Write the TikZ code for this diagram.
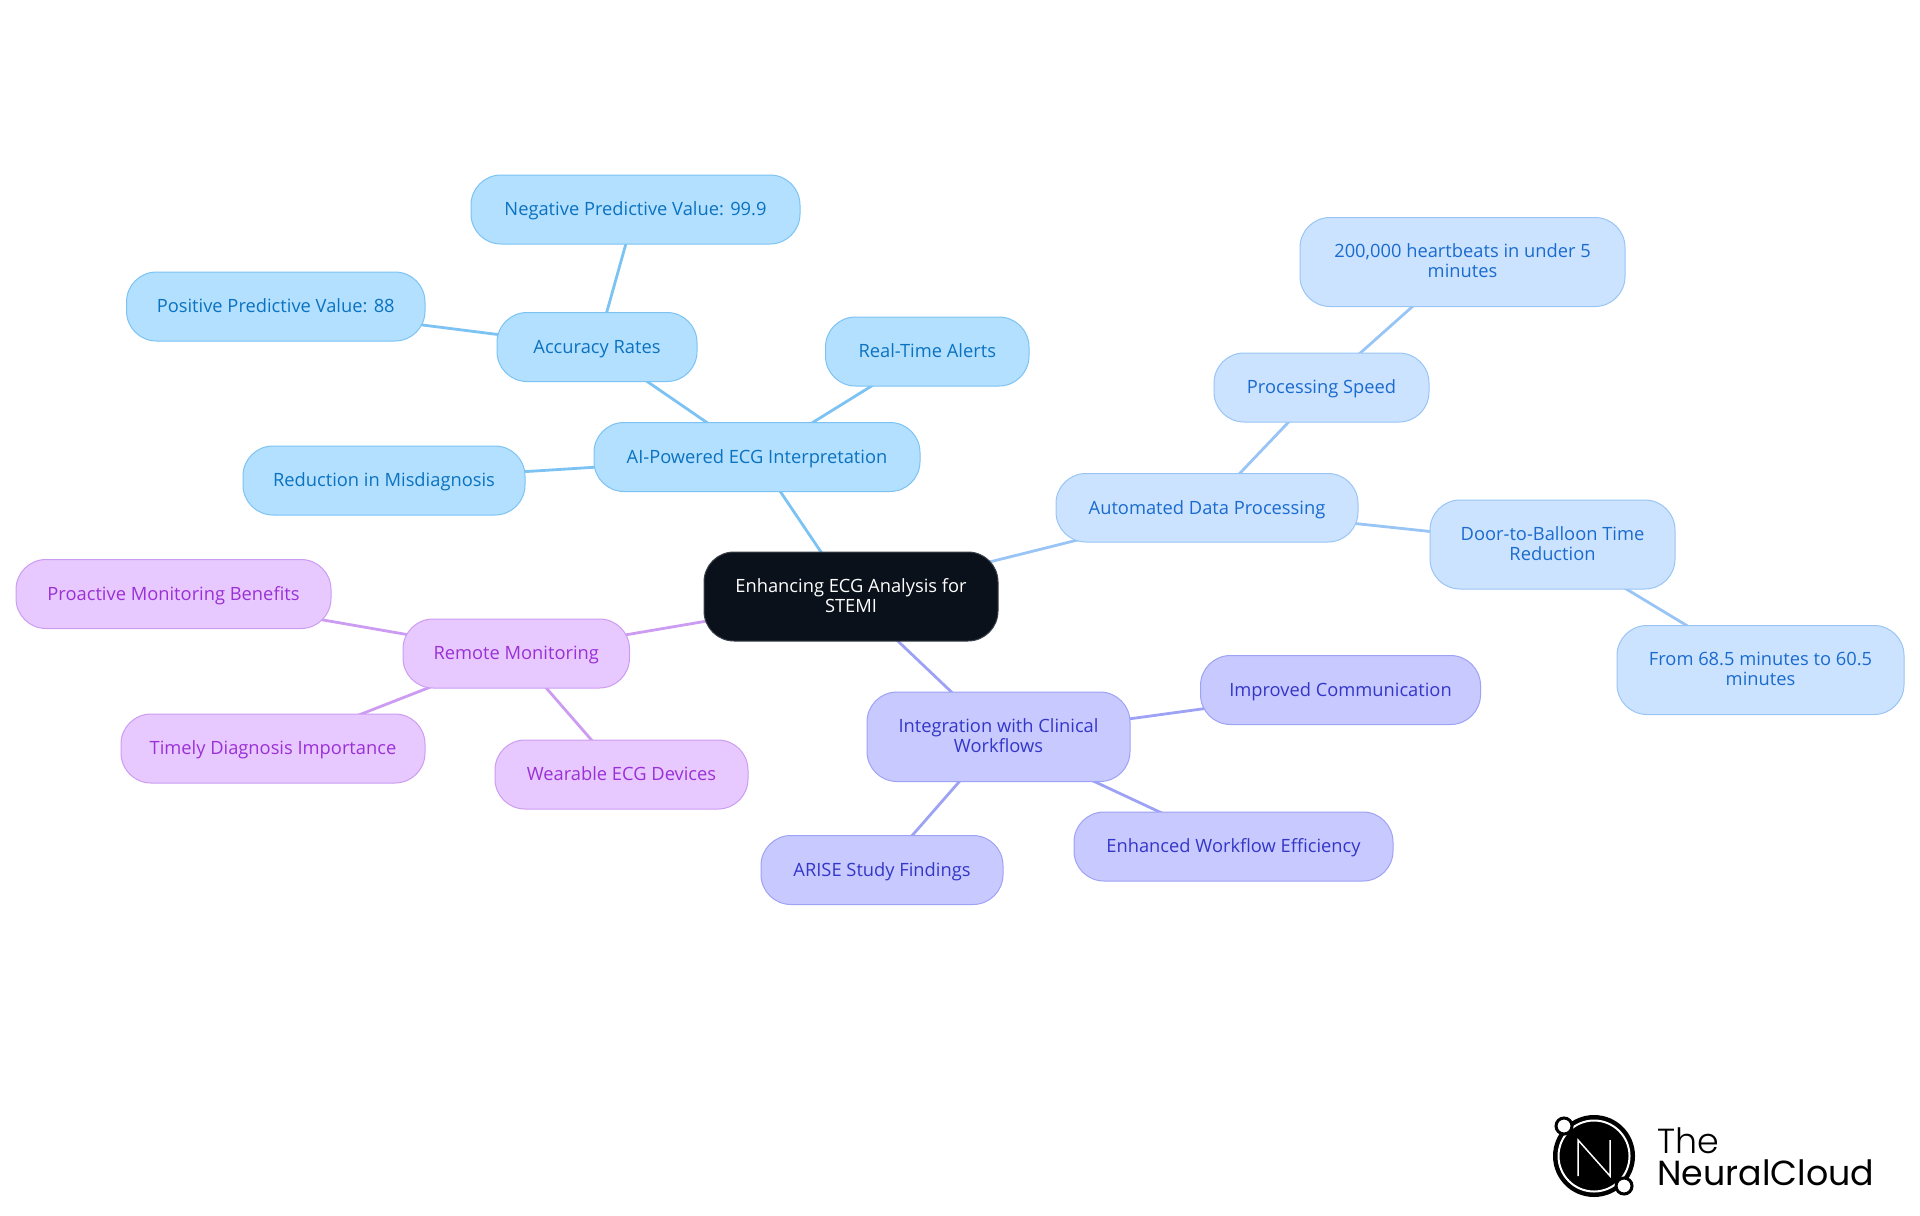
\documentclass[tikz,border=0pt]{standalone}
\usepackage{fontspec}
\setmainfont{Open Sans}
\newfontfamily\logofont{Poppins}
\newfontfamily\logolight{Poppins Light}
\usetikzlibrary{backgrounds}
\definecolor{bluefill}{HTML}{B3E0FF}
\definecolor{bluedraw}{HTML}{7CC3F3}
\definecolor{bluetext}{HTML}{0B72C0}
\definecolor{skyfill}{HTML}{CCE3FF}
\definecolor{skydraw}{HTML}{98C5F5}
\definecolor{skytext}{HTML}{1A6BCE}
\definecolor{indfill}{HTML}{C8CAFF}
\definecolor{inddraw}{HTML}{9EA2F5}
\definecolor{indtext}{HTML}{3436C8}
\definecolor{purfill}{HTML}{E8C9FF}
\definecolor{purdraw}{HTML}{CC9CF2}
\definecolor{purtext}{HTML}{9A30D6}
\definecolor{rootfill}{HTML}{0A111B}
\newcommand{\lowstrut}{\rule[-1.2pt]{0pt}{1.2pt}}
\tikzset{
  x=0.5pt,y=-0.5pt,
  mapnode/.style={rectangle,rounded corners=15pt,line width=0.5pt,align=center,inner sep=0pt,font=\fontsize{9.15}{10}\selectfont},
  oneline/.style={text height=8pt,text depth=1.7pt},
  bluenode/.style={mapnode,fill=bluefill,draw=bluedraw,text=bluetext},
  skynode/.style={mapnode,fill=skyfill,draw=skydraw,text=skytext},
  indnode/.style={mapnode,fill=indfill,draw=inddraw,text=indtext},
  purnode/.style={mapnode,fill=purfill,draw=purdraw,text=purtext},
  rootnode/.style={mapnode,fill=rootfill,draw=rootfill!80!white,text=white},
  blueedge/.style={draw=bluedraw,line width=1.4pt},
  skyedge/.style={draw=skydraw,line width=1.4pt},
  indedge/.style={draw=inddraw,line width=1.4pt},
  puredge/.style={draw=purdraw,line width=1.4pt},
}
\newcommand{\mapbox}[7]{% style,name,x1,y1,x2,y2,text
  \pgfmathsetmacro{\bw}{(#5-#3)*0.5}\pgfmathsetmacro{\bh}{(#6-#4)*0.5}
  \node[#1,minimum width=\bw pt,minimum height=\bh pt] (#2) at ({(#3+#5)/2},{(#4+#6)/2}) {#7};}
\begin{document}
\begin{tikzpicture}
\useasboundingbox (0,0) rectangle (1920,1215);
\mapbox{rootnode}{root}{704}{552}{998}{641}{Enhancing ECG Analysis for\\STEMI\lowstrut}
\mapbox{bluenode,oneline}{ai}{594}{422.5}{920}{491.5}{AI-Powered ECG Interpretation}
\mapbox{bluenode,oneline}{red}{243}{446}{525}{515}{Reduction in Misdiagnosis}
\mapbox{bluenode,oneline}{acc}{497}{312.5}{697}{381.5}{Accuracy Rates}
\mapbox{bluenode,oneline}{rta}{825.5}{317}{1029}{386}{Real-Time Alerts}
\mapbox{bluenode,oneline}{npv}{471}{175}{800}{244}{Negative Predictive Value: 99.9}
\mapbox{bluenode,oneline}{ppv}{126.5}{272}{425}{341}{Positive Predictive Value: 88}
\mapbox{skynode,oneline}{auto}{1056}{473.5}{1358}{542}{Automated Data Processing}
\mapbox{skynode,oneline}{speed}{1214}{353}{1429}{422}{Processing Speed}
\mapbox{skynode}{beats}{1300}{217.5}{1625}{306.5}{200,000 heartbeats in under 5\\minutes\lowstrut}
\mapbox{skynode}{door}{1430}{500}{1675}{589}{Door-to-Balloon Time\\Reduction\lowstrut}
\mapbox{skynode}{from}{1617}{625.5}{1904}{714.5}{From 68.5 minutes to 60.5\\minutes\lowstrut}
\mapbox{indnode}{integ}{867}{692}{1130}{781.5}{Integration with Clinical\\Workflows\lowstrut}
\mapbox{indnode,oneline}{comm}{1200.5}{655.5}{1480.5}{724.5}{Improved Communication}
\mapbox{indnode,oneline}{effic}{1074}{812}{1393}{881}{Enhanced Workflow Efficiency}
\mapbox{indnode,oneline}{arise}{761}{835.5}{1003}{904.5}{ARISE Study Findings}
\mapbox{purnode,oneline}{remote}{403}{619}{629.5}{688}{Remote Monitoring}
\mapbox{purnode,oneline}{proact}{16}{559.5}{331}{628.5}{Proactive Monitoring Benefits}
\mapbox{purnode,oneline}{timely}{121}{714}{425}{783}{Timely Diagnosis Importance}
\mapbox{purnode,oneline}{wear}{495}{740}{748}{809}{Wearable ECG Devices}
\begin{scope}[on background layer]
\draw[blueedge] (root.center) -- (ai.center);
\draw[blueedge] (ai.center) -- (red.center);
\draw[blueedge] (ai.center) -- (acc.center);
\draw[blueedge] (ai.center) -- (rta.center);
\draw[blueedge] (acc.center) -- (npv.center);
\draw[blueedge] (acc.center) -- (ppv.center);
\draw[skyedge] (root.center) -- (auto.center);
\draw[skyedge] (auto.center) -- (speed.center);
\draw[skyedge] (speed.center) -- (beats.center);
\draw[skyedge] (auto.center) -- (door.center);
\draw[skyedge] (door.center) -- (from.center);
\draw[indedge] (root.center) -- (integ.center);
\draw[indedge] (integ.center) -- (comm.center);
\draw[indedge] (integ.center) -- (effic.center);
\draw[indedge] (integ.center) -- (arise.center);
\draw[puredge] (root.center) -- (remote.center);
\draw[puredge] (remote.center) -- (proact.center);
\draw[puredge] (remote.center) -- (timely.center);
\draw[puredge] (remote.center) -- (wear.center);
\end{scope}
% logo
\fill[black] (1594,1156) circle (41);
\draw[white,line width=1pt] (1594,1156) circle (35.5);
\draw[white,line width=0.75pt,line join=miter] (1578,1176) -- (1578,1140) -- (1610,1176) -- (1610,1140);
\filldraw[fill=white,draw=black,line width=1.5pt] (1564,1126) circle (8);
\filldraw[fill=white,draw=black,line width=1.5pt] (1624,1186) circle (8);
\node[anchor=base west,inner sep=0pt,text=black,font=\logolight\fontsize{17.4}{20}\selectfont] (logoa) at (1657,1153) {The};
\node[anchor=base west,inner sep=0pt,text=black,font=\logofont\fontsize{17.4}{20}\selectfont] (logob) at (1657,1185) {NeuralCloud};
\end{tikzpicture}
\end{document}
